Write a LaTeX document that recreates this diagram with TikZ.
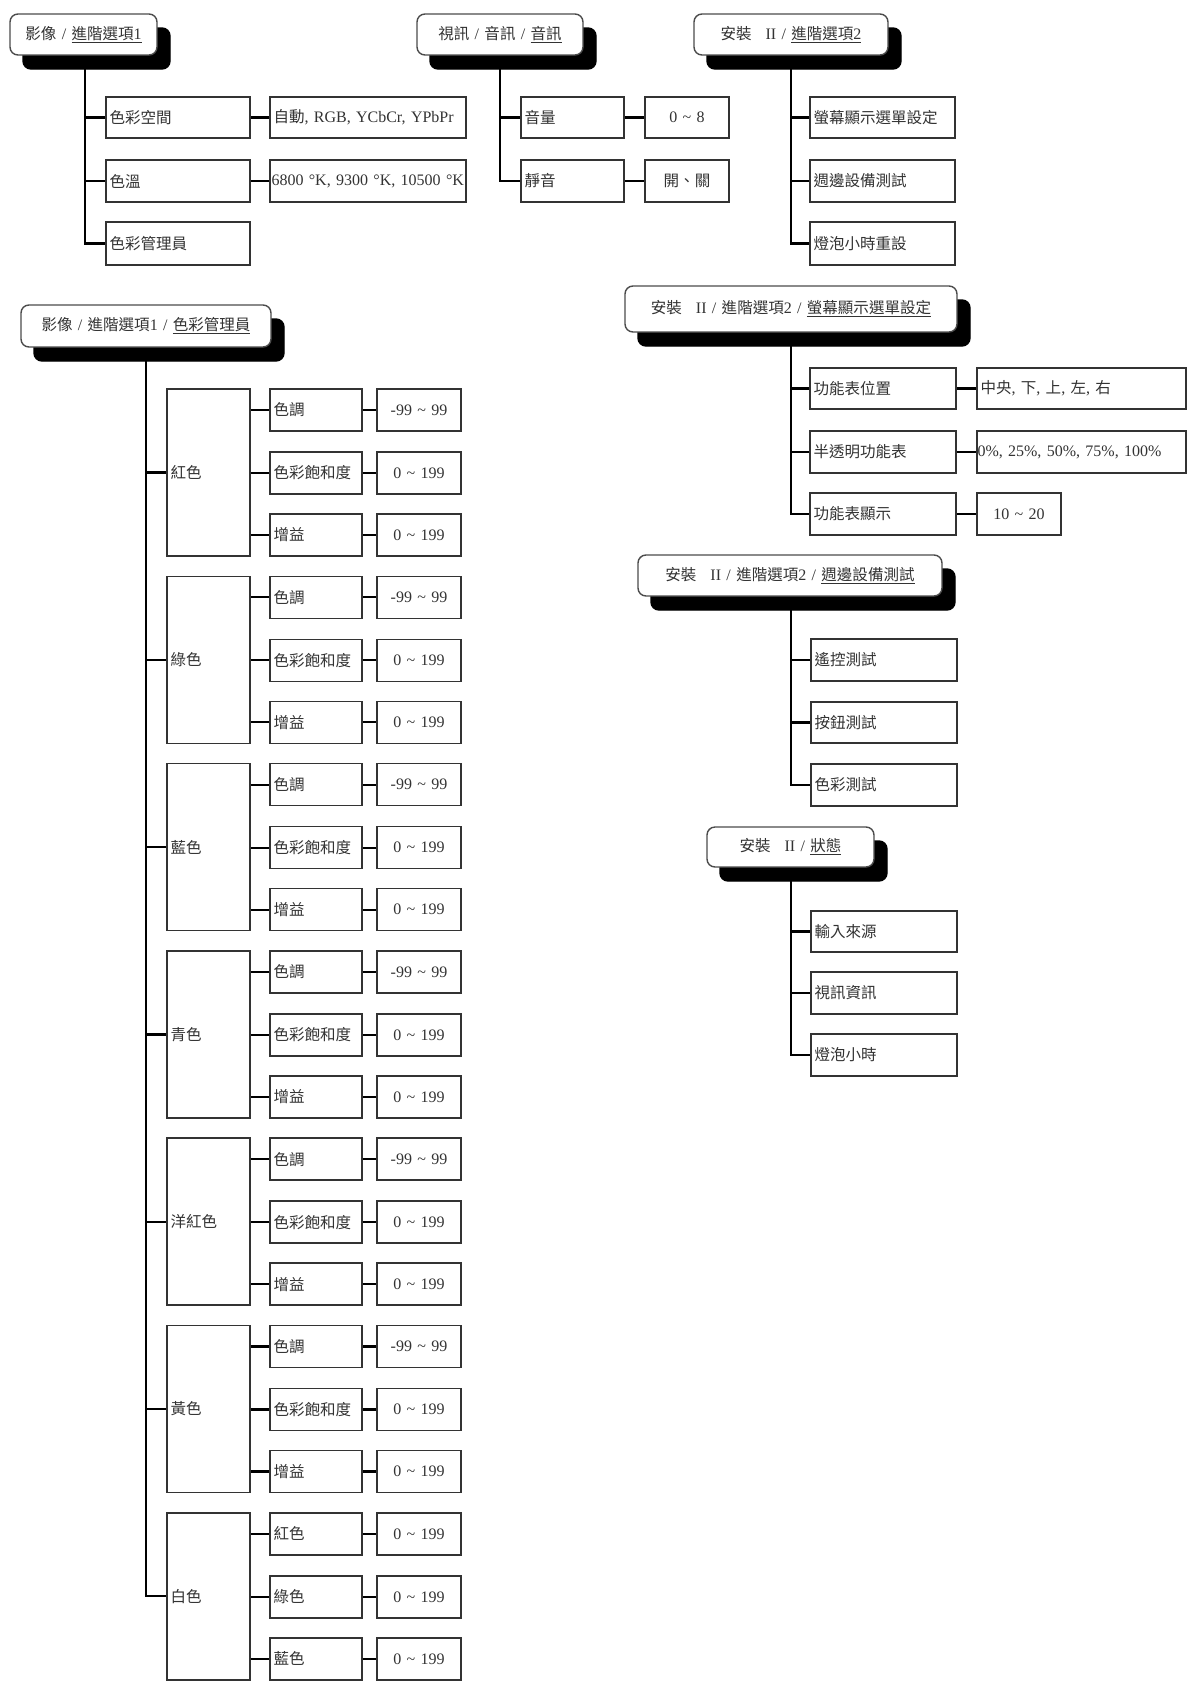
\documentclass[tikz,border=0pt]{standalone}
\usepackage{fontspec}
\setmainfont{Liberation Serif}
\newfontfamily\cjk{Noto Sans CJK TC}[Scale=0.97]
\usetikzlibrary{shadows}
\newcommand\cj[1]{{\cjk #1}}
\newcommand\tld{\textasciitilde}
\newcommand\mybx[7]{%
  \pgfmathsetmacro\bxw{(#4)-(#2)}%
  \pgfmathsetmacro\bxh{(#5)-(#3)}%
  \pgfmathsetmacro\bxt{(#4)-(#2)-7}%
  \pgfmathsetmacro\bxx{((#2)+(#4))/2}%
  \pgfmathsetmacro\bxy{((#3)+(#5))/2}%
  \node[#1, minimum width=\bxw pt, minimum height=\bxh pt, text width=\bxt pt] (#6) at (\bxx,\bxy) {#7};}
\begin{document}
\begin{tikzpicture}[x=1pt,y=-1pt,
  every node/.style={font=\fontsize{16}{19}\selectfont, inner ysep=0pt, inner xsep=3.5pt, text=black!80},
  lbox/.style={draw=black!80, line width=1.5pt, fill=white, align=left},
  cbox/.style={draw=black!80, line width=1.5pt, fill=white, align=center},
  hdr/.style={draw=black!70, line width=1.4pt, fill=white, rounded corners=8pt, align=center,
    copy shadow={shadow xshift=13pt, shadow yshift=-14pt, fill=black, draw=black, opacity=1}},
  conn/.style={line width=2.2pt, black}]
\useasboundingbox[fill=white] (0,0) rectangle (1193,1681);

% ---------- Header 1 ----------
\mybx{hdr}{10}{14}{157}{55}{h1}{\cj{影像} / \underline{\cj{進階選項}1}}
\coordinate (t1) at (85,69);
\mybx{lbox}{106}{97}{250}{138}{c11}{\cj{色彩空間}}
\mybx{lbox}{106}{160}{250}{202}{c12}{\cj{色溫}}
\mybx{lbox}{106}{222}{250}{265}{c13}{\cj{色彩管理員}}
\mybx{lbox}{270}{97}{466}{138}{v11}{\mbox{\cj{自動}, RGB, YCbCr, YPbPr}}
\mybx{lbox}{270}{160}{466}{202}{v12}{\mbox{\hspace{-2pt}6800 °K, 9300 °K, 10500 °K}}
\draw[conn] (t1) |- (c13.west);
\draw[conn] (c11.west -| t1) -- (c11.west);
\draw[conn] (c12.west -| t1) -- (c12.west);
\draw[conn] (c11.east) -- (v11.west);
\draw[conn] (c12.east) -- (v12.west);

% ---------- Header 2 ----------
\mybx{hdr}{417}{14}{583}{55}{h2}{\cj{視訊} / \cj{音訊} / \underline{\cj{音訊}}}
\coordinate (t2) at (500,69);
\mybx{lbox}{521}{97}{624}{138}{c21}{\cj{音量}}
\mybx{lbox}{521}{160}{624}{202}{c22}{\cj{靜音}}
\mybx{cbox}{645}{97}{729}{138}{v21}{0 \tld\ 8}
\mybx{cbox}{645}{160}{729}{202}{v22}{\cj{開、關}}
\draw[conn] (t2) |- (c22.west);
\draw[conn] (c21.west -| t2) -- (c21.west);
\draw[conn] (c21.east) -- (v21.west);
\draw[conn] (c22.east) -- (v22.west);

% ---------- Header 3 ----------
\mybx{hdr}{694}{14}{888}{55}{h3}{\cj{安裝}\hspace{14pt}II / \underline{\cj{進階選項}2}}
\coordinate (t3) at (791,69);
\mybx{lbox}{810}{97}{955}{138}{c31}{\cj{螢幕顯示選單設定}}
\mybx{lbox}{810}{160}{955}{202}{c32}{\cj{週邊設備測試}}
\mybx{lbox}{810}{222}{955}{265}{c33}{\cj{燈泡小時重設}}
\draw[conn] (t3) |- (c33.west);
\draw[conn] (c31.west -| t3) -- (c31.west);
\draw[conn] (c32.west -| t3) -- (c32.west);

% ---------- Header 5 ----------
\mybx{hdr}{625}{286}{957}{332}{h5}{\cj{安裝}\hspace{14pt}II / \cj{進階選項}2 / \underline{\cj{螢幕顯示選單設定}}}
\coordinate (t5) at (791,346);
\mybx{lbox}{810}{368}{956}{409}{c51}{\cj{功能表位置}}
\mybx{lbox}{810}{431}{956}{473}{c52}{\cj{半透明功能表}}
\mybx{lbox}{810}{493}{956}{535}{c53}{\cj{功能表顯示}}
\mybx{lbox}{977}{368}{1186}{409}{v51}{\cj{中央}, \cj{下}, \cj{上}, \cj{左}, \cj{右}}
\mybx{lbox}{977}{431}{1186}{473}{v52}{\hspace{-3pt}0\%, 25\%, 50\%, 75\%, 100\%}
\mybx{cbox}{977}{493}{1061}{535}{v53}{10 \tld\ 20}
\draw[conn] (t5) |- (c53.west);
\draw[conn] (c51.west -| t5) -- (c51.west);
\draw[conn] (c52.west -| t5) -- (c52.west);
\draw[conn] (c51.east) -- (v51.west);
\draw[conn] (c52.east) -- (v52.west);
\draw[conn] (c53.east) -- (v53.west);

% ---------- Header 6 ----------
\mybx{hdr}{638}{555}{942}{596}{h6}{\cj{安裝}\hspace{14pt}II / \cj{進階選項}2 / \underline{\cj{週邊設備測試}}}
\coordinate (t6) at (791,610);
\mybx{lbox}{811}{639}{957}{681}{c61}{\cj{遙控測試}}
\mybx{lbox}{811}{702}{957}{743}{c62}{\cj{按鈕測試}}
\mybx{lbox}{811}{764}{957}{806}{c63}{\cj{色彩測試}}
\draw[conn] (t6) |- (c63.west);
\draw[conn] (c61.west -| t6) -- (c61.west);
\draw[conn] (c62.west -| t6) -- (c62.west);

% ---------- Header 7 ----------
\mybx{hdr}{707}{827}{874}{867}{h7}{\cj{安裝}\hspace{14pt}II / \underline{\cj{狀態}}}
\coordinate (t7) at (791,881);
\mybx{lbox}{811}{911}{957}{952}{c71}{\cj{輸入來源}}
\mybx{lbox}{811}{972}{957}{1014}{c72}{\cj{視訊資訊}}
\mybx{lbox}{811}{1034}{957}{1076}{c73}{\cj{燈泡小時}}
\draw[conn] (t7) |- (c73.west);
\draw[conn] (c71.west -| t7) -- (c71.west);
\draw[conn] (c72.west -| t7) -- (c72.west);

% ---------- Header 4 (color manager) ----------
\mybx{hdr}{21}{305}{271}{347}{h4}{\cj{影像} / \cj{進階選項}1 / \underline{\cj{色彩管理員}}}
\coordinate (t4) at (146,361);
\foreach \k/\g in {0/紅色,1/綠色,2/藍色,3/青色,4/洋紅色,5/黃色}{
  \pgfmathsetmacro\T{389+187.3*\k}
  \mybx{lbox}{167}{\T}{250}{\T+167}{g\k}{\cj{\g}}
  \draw[conn] (g\k.west -| t4) -- (g\k.west);
  \foreach \j/\r/\s/\v in {1/0/色調/-99 \tld\ 99, 2/63/色彩飽和度/0 \tld\ 199, 3/125/增益/0 \tld\ 199}{
    \mybx{lbox}{270}{\T+\r}{362}{\T+\r+42}{s\k\j}{\cj{\s}}
    \mybx{cbox}{377}{\T+\r}{461}{\T+\r+42}{v\k\j}{\v}
    \draw[conn] (s\k\j.west -| g\k.east) -- (s\k\j.west);
    \draw[conn] (s\k\j.east) -- (v\k\j.west);
  }
}
\pgfmathsetmacro\T{389+187.3*6}
\mybx{lbox}{167}{\T}{250}{\T+167}{g6}{\cj{白色}}
\foreach \j/\r/\s in {1/0/紅色, 2/63/綠色, 3/125/藍色}{
  \mybx{lbox}{270}{\T+\r}{362}{\T+\r+42}{s6\j}{\cj{\s}}
  \mybx{cbox}{377}{\T+\r}{461}{\T+\r+42}{v6\j}{0 \tld\ 199}
  \draw[conn] (s6\j.west -| g6.east) -- (s6\j.west);
  \draw[conn] (s6\j.east) -- (v6\j.west);
}
\draw[conn] (t4) |- (g6.west);
\end{tikzpicture}
\end{document}
